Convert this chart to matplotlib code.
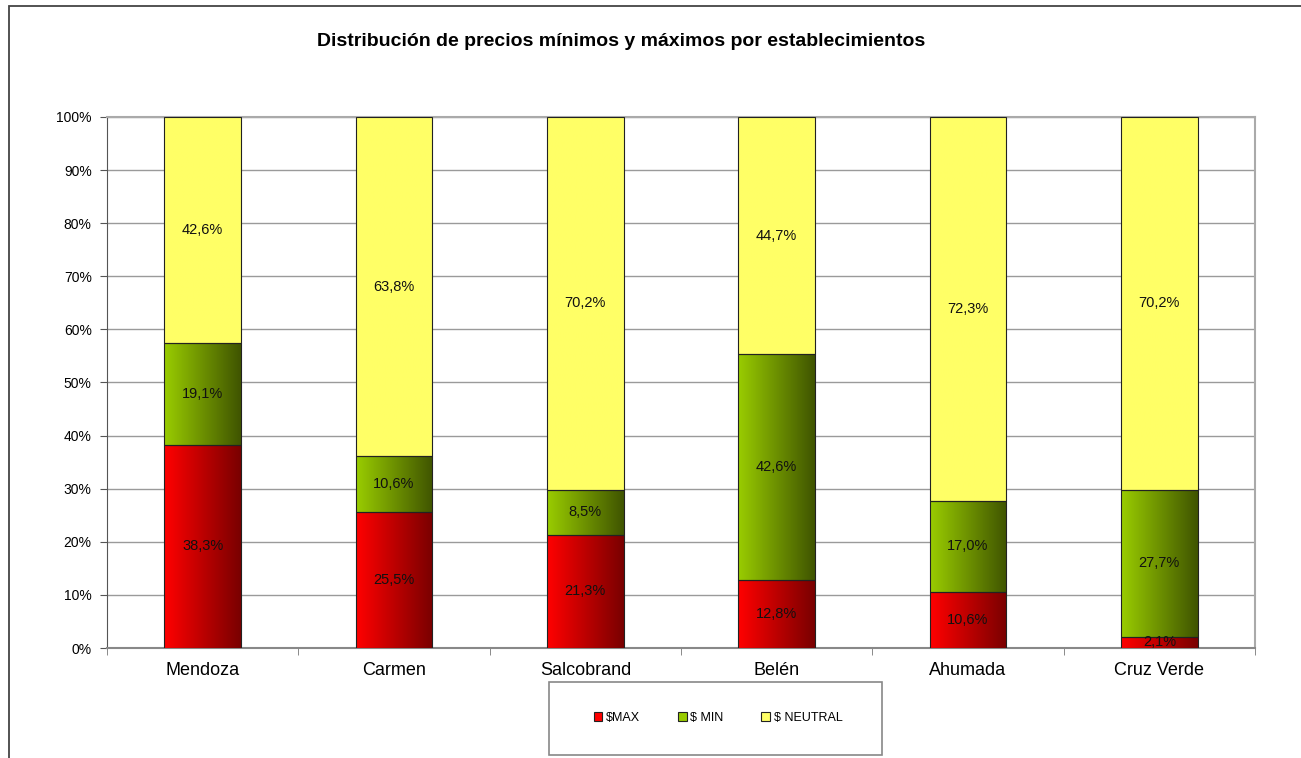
import numpy as np
import matplotlib
matplotlib.use("Agg")
import matplotlib.pyplot as plt
from matplotlib.patches import Rectangle
from matplotlib.colors import to_rgb

plt.rcParams['font.family'] = ['Liberation Sans', 'DejaVu Sans']

# datos
establecimientos = ['Mendoza', 'Carmen', 'Salcobrand', 'Belén', 'Ahumada', 'Cruz Verde']
precio_max = [38.3, 25.5, 21.3, 12.8, 10.6, 2.1]
precio_min = [19.1, 10.6, 8.5, 42.6, 17.0, 27.7]
precio_neutral = [42.6, 63.8, 70.2, 44.7, 72.3, 70.2]
series_nombres = ['$MAX', '$ MIN', '$ NEUTRAL']

# colores (izquierda -> derecha del degradado)
grad_max = ('#ff0000', '#7a0000')
grad_min = ('#99cc00', '#405500')
grad_neu = ('#ffff66', '#ffff66')

fig = plt.figure(figsize=(13.01, 7.58), dpi=100)
ax = fig.add_axes([107/1301, 1 - 648/758, (1255-107)/1301, (648-117)/758])

x = np.arange(len(establecimientos))
ancho = 0.4

datos = np.array([precio_max, precio_min, precio_neutral])
totales = datos.sum(axis=0)
pct = datos / totales * 100


def gradiente(c1, c2, n=64):
    a = np.array(to_rgb(c1))
    b = np.array(to_rgb(c2))
    t = np.linspace(0, 1, n)[:, None]
    return (a + (b - a) * t)[None, :, :]


abajo = np.zeros(len(x))
grads = [grad_max, grad_min, grad_neu]
for i, (vals, g) in enumerate(zip(pct, grads)):
    barras = ax.bar(x, vals, ancho, bottom=abajo, facecolor='none',
                    edgecolor='#222222', linewidth=0.8, zorder=4)
    img = gradiente(*g)
    for b in barras:
        x0, y0 = b.get_x(), b.get_y()
        ax.imshow(img, extent=(x0, x0 + b.get_width(), y0, y0 + b.get_height()),
                  aspect='auto', zorder=3, interpolation='bilinear')
    for xi, v, base, lab in zip(x, vals, abajo, datos[i]):
        ax.text(xi, base + v / 2, f'{lab:.1f}%'.replace('.', ','), ha='center',
                va='center', fontsize=10.5, color='#111111', zorder=5)
    abajo = abajo + vals

ax.set_xlim(-0.5, len(x) - 0.5)
ax.set_ylim(0, 100)
ax.set_yticks(np.arange(0, 101, 10))
ax.set_yticklabels([f'{v}%' for v in range(0, 101, 10)], fontsize=10)
ax.yaxis.grid(True, color='#9a9a9a', linewidth=1)
ax.set_axisbelow(True)

ax.set_xticks(x)
ax.set_xticklabels(establecimientos, fontsize=13)
ax.set_xticks(np.arange(-0.5, len(x)), minor=True)
ax.tick_params(axis='x', which='major', length=0, pad=10)
ax.tick_params(axis='x', which='minor', length=5, color='#777777', direction='out')
ax.tick_params(axis='y', length=5, color='#555555', direction='out', pad=6)

for lado in ['top', 'right']:
    ax.spines[lado].set_color('#aaaaaa')
    ax.spines[lado].set_linewidth(1.5)
ax.spines['bottom'].set_color('#888888')
ax.spines['bottom'].set_linewidth(1.5)
ax.spines['left'].set_color('#555555')

fig.text(621/1301, 1 - 42/758, 'Distribución de precios mínimos y máximos por establecimientos',
         ha='center', va='center', fontsize=14, fontweight='bold')

# leyenda (marco aparte)
fig.patches.append(Rectangle((549/1301, 1 - 755/758), 333/1301, 73/758, transform=fig.transFigure,
                             fill=False, edgecolor='#888888', linewidth=1.2))
manijas = [Rectangle((0, 0), 1, 1, facecolor=c[0], edgecolor='#222222', linewidth=0.8)
           for c in grads]
leg = fig.legend(manijas, series_nombres, loc='center', ncol=3,
                 bbox_to_anchor=(718/1301, 1 - 718/758), fontsize=9,
                 frameon=False, handlelength=0.7, handleheight=0.7,
                 handletextpad=0.3, columnspacing=3.0, borderaxespad=0)

# borde de la figura
fig.patches.append(Rectangle((9/1301, -0.05), 1.2, 1 - 6/758 + 0.05, transform=fig.transFigure,
                             fill=False, edgecolor='#444444', linewidth=1.3))

fig.savefig('out.png', dpi=100)
